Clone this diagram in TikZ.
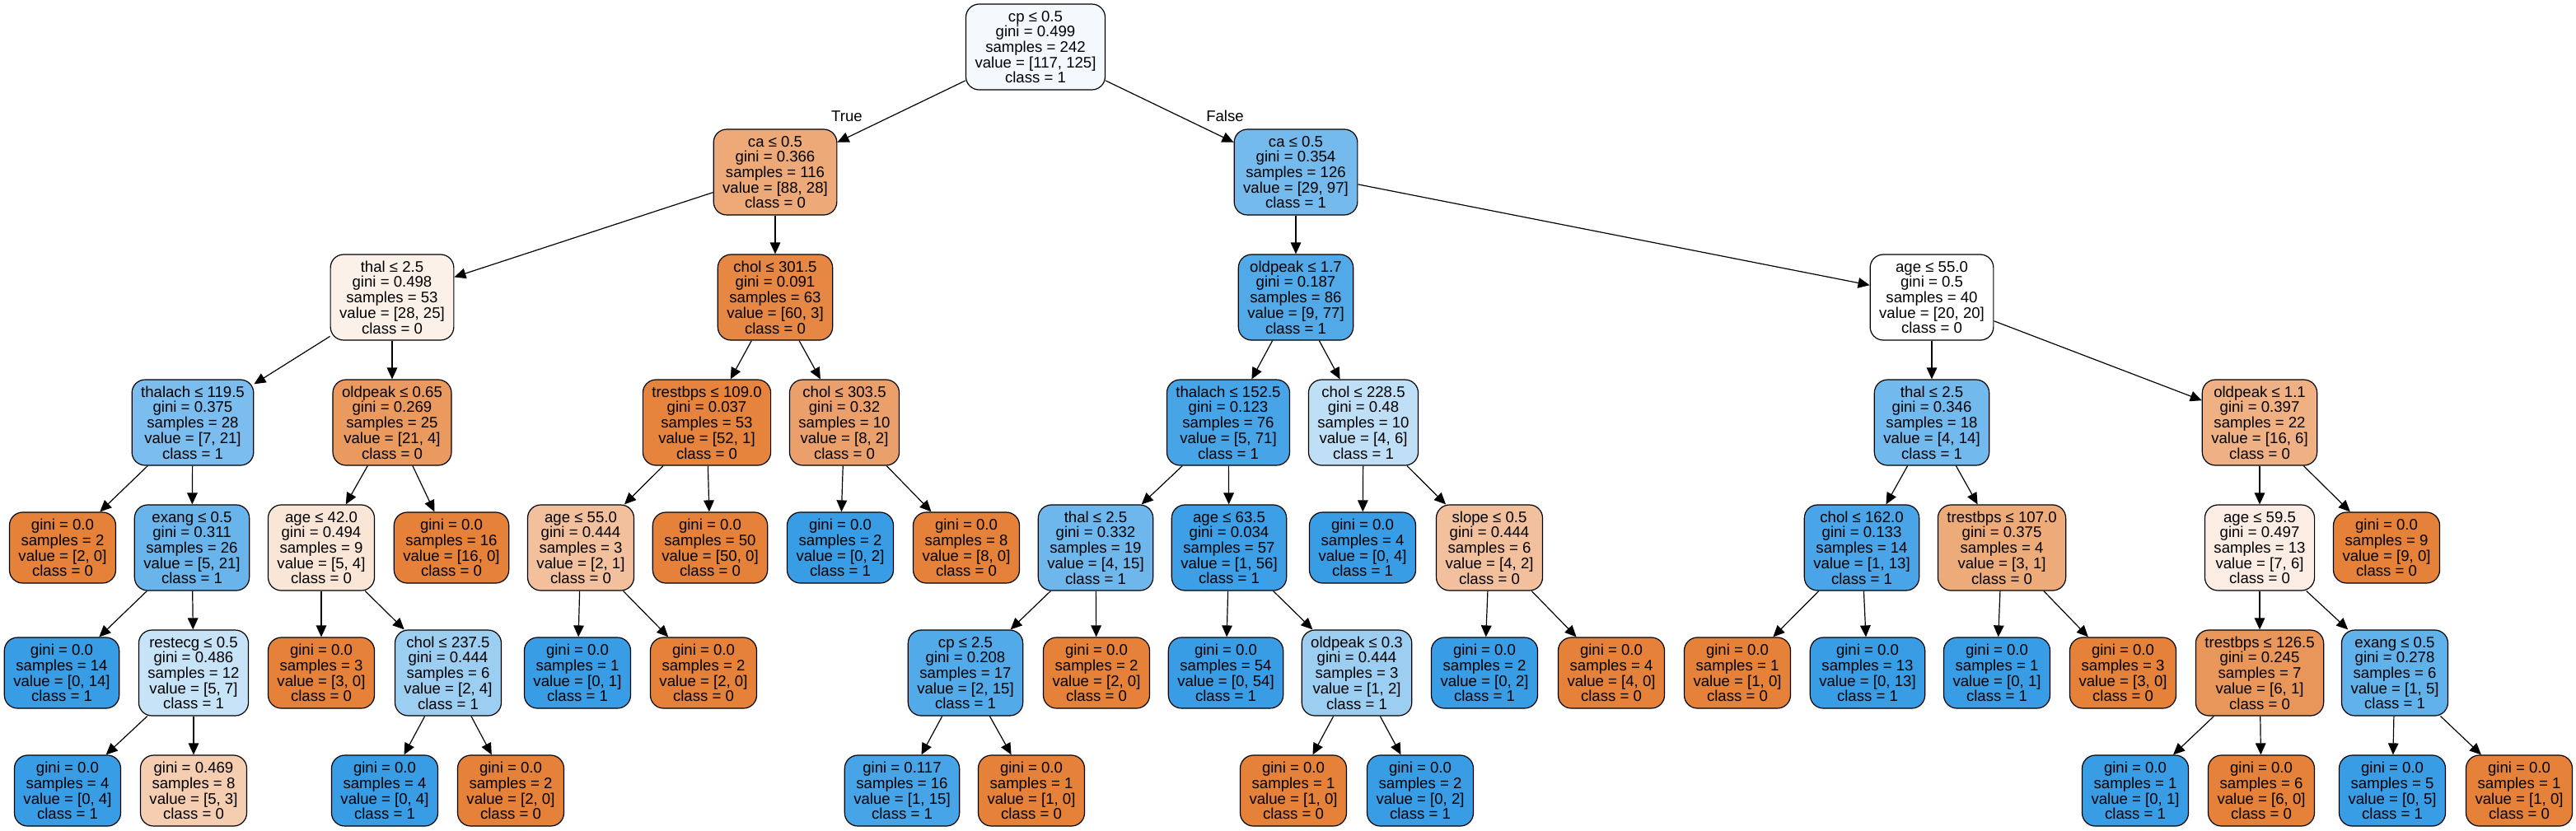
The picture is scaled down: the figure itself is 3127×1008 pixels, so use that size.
\documentclass[tikz,border=0pt]{standalone}
\usepackage{fontspec}
\setmainfont{Liberation Sans}
\usetikzlibrary{arrows.meta}
\definecolor{clsa}{HTML}{E58139}
\definecolor{clsb}{HTML}{399DE5}
\begin{document}
\begin{tikzpicture}[x=0.5pt,y=-0.5pt,
		box/.style={draw, rounded corners=8pt, line width=0.6pt, align=center, inner xsep=5.5pt, inner ysep=1pt, font=\fontsize{9.3}{9.35}\selectfont},
		test/.style={box, minimum height=52pt},
		leaf/.style={box, minimum height=43pt},
		link/.style={-{Triangle[length=7pt,width=6.3pt]}, line width=0.6pt},
		lbl/.style={font=\fontsize{9.3}{9.35}\selectfont}]
		\useasboundingbox (0,0) rectangle (3127,1008);
		\node[test, fill=clsb!6] (root) at (1257,57) {cp ≤ 0.5\\gini = 0.499\\samples = 242\\value = [117, 125]\\class = 1};
		\node[test, fill=clsa!68] (caa) at (941,209) {ca ≤ 0.5\\gini = 0.366\\samples = 116\\value = [88, 28]\\class = 0};
		\node[test, fill=clsb!70] (cab) at (1573,209) {ca ≤ 0.5\\gini = 0.354\\samples = 126\\value = [29, 97]\\class = 1};
		\node[test, fill=clsa!11] (thala) at (476,361) {thal ≤ 2.5\\gini = 0.498\\samples = 53\\value = [28, 25]\\class = 0};
		\node[test, fill=clsa!95] (chola) at (941,361) {chol ≤ 301.5\\gini = 0.091\\samples = 63\\value = [60, 3]\\class = 0};
		\node[test, fill=clsb!88] (oldpeaka) at (1573,361) {oldpeak ≤ 1.7\\gini = 0.187\\samples = 86\\value = [9, 77]\\class = 1};
		\node[test, fill=white] (agea) at (2345,361) {age ≤ 55.0\\gini = 0.5\\samples = 40\\value = [20, 20]\\class = 0};
		\node[test, fill=clsb!67] (thalacha) at (234,513) {thalach ≤ 119.5\\gini = 0.375\\samples = 28\\value = [7, 21]\\class = 1};
		\node[test, fill=clsa!81] (oldpeakb) at (476,513) {oldpeak ≤ 0.65\\gini = 0.269\\samples = 25\\value = [21, 4]\\class = 0};
		\node[test, fill=clsa!98] (trestbpsa) at (858,513) {trestbps ≤ 109.0\\gini = 0.037\\samples = 53\\value = [52, 1]\\class = 0};
		\node[test, fill=clsa!75] (cholb) at (1025,513) {chol ≤ 303.5\\gini = 0.32\\samples = 10\\value = [8, 2]\\class = 0};
		\node[test, fill=clsb!93] (thalachb) at (1491,513) {thalach ≤ 152.5\\gini = 0.123\\samples = 76\\value = [5, 71]\\class = 1};
		\node[test, fill=clsb!33] (cholc) at (1655,513) {chol ≤ 228.5\\gini = 0.48\\samples = 10\\value = [4, 6]\\class = 1};
		\node[test, fill=clsb!71] (thalb) at (2345,513) {thal ≤ 2.5\\gini = 0.346\\samples = 18\\value = [4, 14]\\class = 1};
		\node[test, fill=clsa!62] (oldpeakc) at (2743,513) {oldpeak ≤ 1.1\\gini = 0.397\\samples = 22\\value = [16, 6]\\class = 0};
		\node[leaf, fill=clsa] (l1) at (76,665) {gini = 0.0\\samples = 2\\value = [2, 0]\\class = 0};
		\node[test, fill=clsb!76] (exanga) at (233,665) {exang ≤ 0.5\\gini = 0.311\\samples = 26\\value = [5, 21]\\class = 1};
		\node[test, fill=clsa!20] (ageb) at (390,665) {age ≤ 42.0\\gini = 0.494\\samples = 9\\value = [5, 4]\\class = 0};
		\node[leaf, fill=clsa] (l2) at (548,665) {gini = 0.0\\samples = 16\\value = [16, 0]\\class = 0};
		\node[test, fill=clsa!50] (agec) at (705,665) {age ≤ 55.0\\gini = 0.444\\samples = 3\\value = [2, 1]\\class = 0};
		\node[leaf, fill=clsa] (l3) at (862,665) {gini = 0.0\\samples = 50\\value = [50, 0]\\class = 0};
		\node[leaf, fill=clsb] (l4) at (1020,665) {gini = 0.0\\samples = 2\\value = [0, 2]\\class = 1};
		\node[leaf, fill=clsa] (l5) at (1173,665) {gini = 0.0\\samples = 8\\value = [8, 0]\\class = 0};
		\node[test, fill=clsb!73] (thalc) at (1330,665) {thal ≤ 2.5\\gini = 0.332\\samples = 19\\value = [4, 15]\\class = 1};
		\node[test, fill=clsb!98] (aged) at (1492,665) {age ≤ 63.5\\gini = 0.034\\samples = 57\\value = [1, 56]\\class = 1};
		\node[leaf, fill=clsb] (l6) at (1654,665) {gini = 0.0\\samples = 4\\value = [0, 4]\\class = 1};
		\node[test, fill=clsa!50] (slopea) at (1808,665) {slope ≤ 0.5\\gini = 0.444\\samples = 6\\value = [4, 2]\\class = 0};
		\node[test, fill=clsb!92] (chold) at (2260,665) {chol ≤ 162.0\\gini = 0.133\\samples = 14\\value = [1, 13]\\class = 1};
		\node[test, fill=clsa!67] (trestbpsb) at (2430,665) {trestbps ≤ 107.0\\gini = 0.375\\samples = 4\\value = [3, 1]\\class = 0};
		\node[test, fill=clsa!14] (agee) at (2743,665) {age ≤ 59.5\\gini = 0.497\\samples = 13\\value = [7, 6]\\class = 0};
		\node[leaf, fill=clsa] (l7) at (2897,665) {gini = 0.0\\samples = 9\\value = [9, 0]\\class = 0};
		\node[leaf, fill=clsb] (l8) at (75,817) {gini = 0.0\\samples = 14\\value = [0, 14]\\class = 1};
		\node[test, fill=clsb!29] (restecga) at (235,817) {restecg ≤ 0.5\\gini = 0.486\\samples = 12\\value = [5, 7]\\class = 1};
		\node[leaf, fill=clsa] (l9) at (390,817) {gini = 0.0\\samples = 3\\value = [3, 0]\\class = 0};
		\node[test, fill=clsb!50] (chole) at (544,817) {chol ≤ 237.5\\gini = 0.444\\samples = 6\\value = [2, 4]\\class = 1};
		\node[leaf, fill=clsb] (l10) at (701,817) {gini = 0.0\\samples = 1\\value = [0, 1]\\class = 1};
		\node[leaf, fill=clsa] (l11) at (854,817) {gini = 0.0\\samples = 2\\value = [2, 0]\\class = 0};
		\node[test, fill=clsb!87] (cpa) at (1172,817) {cp ≤ 2.5\\gini = 0.208\\samples = 17\\value = [2, 15]\\class = 1};
		\node[leaf, fill=clsa] (l12) at (1331,817) {gini = 0.0\\samples = 2\\value = [2, 0]\\class = 0};
		\node[leaf, fill=clsb] (l13) at (1488,817) {gini = 0.0\\samples = 54\\value = [0, 54]\\class = 1};
		\node[test, fill=clsb!50] (oldpeakd) at (1647,817) {oldpeak ≤ 0.3\\gini = 0.444\\samples = 3\\value = [1, 2]\\class = 1};
		\node[leaf, fill=clsb] (l14) at (1802,817) {gini = 0.0\\samples = 2\\value = [0, 2]\\class = 1};
		\node[leaf, fill=clsa] (l15) at (1956,817) {gini = 0.0\\samples = 4\\value = [4, 0]\\class = 0};
		\node[leaf, fill=clsa] (l16) at (2109,817) {gini = 0.0\\samples = 1\\value = [1, 0]\\class = 0};
		\node[leaf, fill=clsb] (l17) at (2267,817) {gini = 0.0\\samples = 13\\value = [0, 13]\\class = 1};
		\node[leaf, fill=clsb] (l18) at (2424,817) {gini = 0.0\\samples = 1\\value = [0, 1]\\class = 1};
		\node[leaf, fill=clsa] (l19) at (2577,817) {gini = 0.0\\samples = 3\\value = [3, 0]\\class = 0};
		\node[test, fill=clsa!83] (trestbpsc) at (2743,817) {trestbps ≤ 126.5\\gini = 0.245\\samples = 7\\value = [6, 1]\\class = 0};
		\node[test, fill=clsb!80] (exangb) at (2907,817) {exang ≤ 0.5\\gini = 0.278\\samples = 6\\value = [1, 5]\\class = 1};
		\node[leaf, fill=clsb] (l20) at (82,960) {gini = 0.0\\samples = 4\\value = [0, 4]\\class = 1};
		\node[leaf, fill=clsa!40] (l21) at (235,960) {gini = 0.469\\samples = 8\\value = [5, 3]\\class = 0};
		\node[leaf, fill=clsb] (l22) at (467,960) {gini = 0.0\\samples = 4\\value = [0, 4]\\class = 1};
		\node[leaf, fill=clsa] (l23) at (620,960) {gini = 0.0\\samples = 2\\value = [2, 0]\\class = 0};
		\node[leaf, fill=clsb!93] (l24) at (1095,960) {gini = 0.117\\samples = 16\\value = [1, 15]\\class = 1};
		\node[leaf, fill=clsa] (l25) at (1252,960) {gini = 0.0\\samples = 1\\value = [1, 0]\\class = 0};
		\node[leaf, fill=clsa] (l26) at (1570,960) {gini = 0.0\\samples = 1\\value = [1, 0]\\class = 0};
		\node[leaf, fill=clsb] (l27) at (1724,960) {gini = 0.0\\samples = 2\\value = [0, 2]\\class = 1};
		\node[leaf, fill=clsb] (l28) at (2592,960) {gini = 0.0\\samples = 1\\value = [0, 1]\\class = 1};
		\node[leaf, fill=clsa] (l29) at (2745,960) {gini = 0.0\\samples = 6\\value = [6, 0]\\class = 0};
		\node[leaf, fill=clsb] (l30) at (2904,960) {gini = 0.0\\samples = 5\\value = [0, 5]\\class = 1};
		\node[leaf, fill=clsa] (l31) at (3058,960) {gini = 0.0\\samples = 1\\value = [1, 0]\\class = 0};
		\node[lbl] (truelbl) at (1028,141) {True};
		\node[lbl] (falselbl) at (1487,141) {False};
		\draw[link] (root) -- (caa);
		\draw[link] (root) -- (cab);
		\draw[link] (caa) -- (thala);
		\draw[link] (caa) -- (chola);
		\draw[link] (thala) -- (thalacha);
		\draw[link] (thala) -- (oldpeakb);
		\draw[link] (thalacha) -- (l1);
		\draw[link] (thalacha) -- (exanga);
		\draw[link] (exanga) -- (l8);
		\draw[link] (exanga) -- (restecga);
		\draw[link] (restecga) -- (l20);
		\draw[link] (restecga) -- (l21);
		\draw[link] (oldpeakb) -- (ageb);
		\draw[link] (oldpeakb) -- (l2);
		\draw[link] (ageb) -- (l9);
		\draw[link] (ageb) -- (chole);
		\draw[link] (chole) -- (l22);
		\draw[link] (chole) -- (l23);
		\draw[link] (chola) -- (trestbpsa);
		\draw[link] (chola) -- (cholb);
		\draw[link] (trestbpsa) -- (agec);
		\draw[link] (trestbpsa) -- (l3);
		\draw[link] (agec) -- (l10);
		\draw[link] (agec) -- (l11);
		\draw[link] (cholb) -- (l4);
		\draw[link] (cholb) -- (l5);
		\draw[link] (cab) -- (oldpeaka);
		\draw[link] (cab) -- (agea);
		\draw[link] (oldpeaka) -- (thalachb);
		\draw[link] (oldpeaka) -- (cholc);
		\draw[link] (thalachb) -- (thalc);
		\draw[link] (thalachb) -- (aged);
		\draw[link] (thalc) -- (cpa);
		\draw[link] (thalc) -- (l12);
		\draw[link] (cpa) -- (l24);
		\draw[link] (cpa) -- (l25);
		\draw[link] (aged) -- (l13);
		\draw[link] (aged) -- (oldpeakd);
		\draw[link] (oldpeakd) -- (l26);
		\draw[link] (oldpeakd) -- (l27);
		\draw[link] (cholc) -- (l6);
		\draw[link] (cholc) -- (slopea);
		\draw[link] (slopea) -- (l14);
		\draw[link] (slopea) -- (l15);
		\draw[link] (agea) -- (thalb);
		\draw[link] (agea) -- (oldpeakc);
		\draw[link] (thalb) -- (chold);
		\draw[link] (thalb) -- (trestbpsb);
		\draw[link] (chold) -- (l16);
		\draw[link] (chold) -- (l17);
		\draw[link] (trestbpsb) -- (l18);
		\draw[link] (trestbpsb) -- (l19);
		\draw[link] (oldpeakc) -- (agee);
		\draw[link] (oldpeakc) -- (l7);
		\draw[link] (agee) -- (trestbpsc);
		\draw[link] (agee) -- (exangb);
		\draw[link] (trestbpsc) -- (l28);
		\draw[link] (trestbpsc) -- (l29);
		\draw[link] (exangb) -- (l30);
		\draw[link] (exangb) -- (l31);
		\end{tikzpicture}
\end{document}
